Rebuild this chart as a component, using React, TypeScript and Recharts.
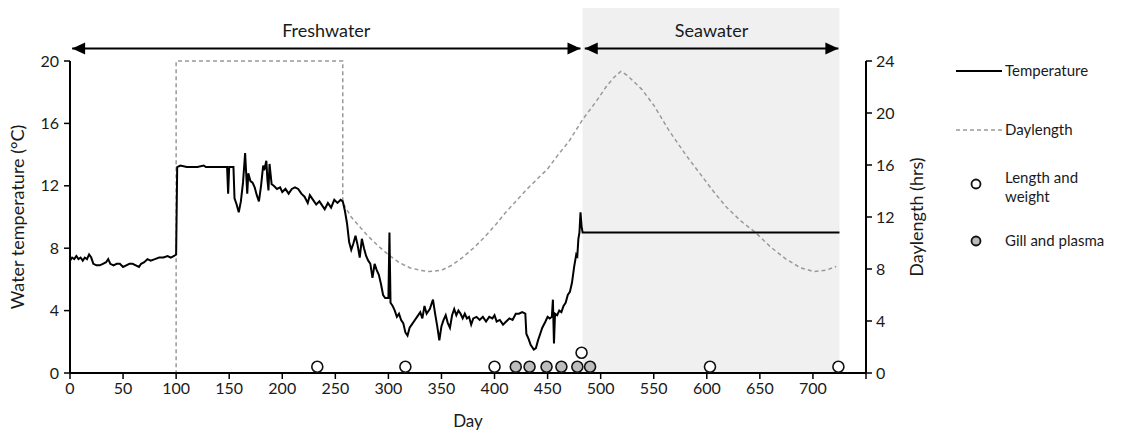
// Water temperature and daylength across the freshwater and seawater phases,
// with the sampling days marked along the bottom.
import {
  ComposedChart,
  Line,
  ReferenceArea,
  ReferenceLine,
  Scatter,
  XAxis,
  YAxis,
} from "recharts";

const FONT = "Lato, 'Open Sans', sans-serif";
const INK = "#1a1a1a";

const tempDays = [
  0, 2, 4, 6, 8, 10, 12, 14, 16, 18, 20, 22, 25, 28, 31, 34, 36, 38, 41, 44, 47, 50, 53, 56, 59, 62, 65, 67,
  70, 73, 76, 80, 84, 88, 92, 95, 98, 100, 101, 104, 110, 115, 120, 126, 128, 135, 145, 148, 149, 150, 154,
  155, 157, 159, 161, 163, 165, 167, 168, 170, 172, 174, 176, 178, 180, 182, 183, 185, 186, 187, 188, 190,
  192, 195, 198, 200, 203, 206, 209, 212, 215, 218, 221, 224, 226, 229, 232, 235, 238, 240, 243, 246, 249,
  252, 255, 257, 259, 261, 263, 265, 267, 269, 271, 273, 275, 277, 279, 281, 283, 285, 287, 289, 291, 293,
  295, 297, 300, 301, 302, 304, 306, 308, 310, 312, 314, 316, 318, 320, 322, 324, 327, 330, 332, 334, 336,
  339, 342, 344, 346, 348, 350, 352, 354, 356, 358, 360, 362, 364, 366, 368, 370, 372, 374, 376, 378, 380,
  383, 386, 389, 392, 395, 398, 400, 402, 405, 408, 411, 414, 417, 420, 423, 426, 429, 430, 432, 434, 437,
  439, 441, 443, 445, 448, 450, 452, 454, 455, 456, 457, 459, 461, 463, 465, 467, 469, 471, 473, 475, 477,
  478, 479, 480, 481, 482, 483, 725,
];
const tempValues = [
  7.2, 7.4, 7.3, 7.5, 7.3, 7.4, 7.2, 7.4, 7.3, 7.6, 7.4, 7.0, 6.9, 6.9, 7.0, 7.1, 7.3, 7.0, 6.9, 7.0, 7.0, 6.8,
  6.9, 7.0, 7.0, 6.9, 6.8, 7.0, 7.1, 7.3, 7.2, 7.3, 7.4, 7.4, 7.5, 7.4, 7.5, 7.6, 13.2, 13.3, 13.2, 13.2, 13.2,
  13.3, 13.2, 13.2, 13.2, 13.2, 11.5, 13.2, 13.2, 11.2, 10.8, 10.3, 11.0, 12.2, 14.1, 11.5, 12.8, 12.3, 12.2,
  11.9, 11.4, 11.0, 12.0, 13.3, 13.0, 13.6, 12.4, 11.7, 13.4, 12.1, 12.0, 11.8, 11.9, 11.6, 11.8, 11.5, 11.8,
  11.9, 11.8, 11.5, 11.3, 10.9, 11.4, 11.1, 10.8, 11.0, 10.7, 10.5, 10.9, 10.6, 11.1, 10.9, 11.1, 11.0, 10.4,
  9.6, 8.4, 7.9, 8.3, 8.8, 8.2, 7.4, 8.6, 8.0, 7.5, 7.2, 7.0, 6.1, 7.0, 6.6, 6.3, 5.7, 5.0, 4.8, 4.8, 9.0,
  4.5, 4.3, 4.0, 3.6, 3.8, 3.4, 3.2, 2.6, 2.4, 2.9, 3.1, 3.3, 3.6, 3.9, 3.5, 4.3, 3.8, 4.1, 4.7, 3.8, 3.0,
  2.1, 3.0, 3.4, 3.7, 3.2, 2.9, 3.7, 4.1, 3.7, 4.0, 3.8, 3.5, 3.8, 3.5, 3.6, 3.1, 3.5, 3.6, 3.4, 3.6, 3.3,
  3.6, 3.5, 3.7, 3.3, 3.4, 3.1, 3.3, 3.5, 3.4, 3.8, 3.8, 3.9, 3.8, 2.5, 2.2, 1.8, 1.5, 1.6, 2.1, 2.5, 2.9,
  3.3, 3.6, 3.5, 3.6, 4.7, 1.9, 3.8, 3.7, 4.0, 3.9, 4.3, 4.5, 5.0, 5.2, 5.8, 6.8, 7.6, 7.5, 8.6, 9.0, 10.3,
  9.4, 9.0, 9.0,
];

const lightDays = [
  0, 100, 100, 257, 257, 265, 280, 290, 300, 310, 320, 330, 338, 350, 360, 370, 380, 390, 400, 410, 420, 430,
  440, 450, 460, 470, 483, 495, 505, 512, 519, 525, 539, 550, 564, 580, 593, 605, 618, 632, 646, 660, 674,
  688, 701, 712, 722,
];
const lightHours = [
  0, 0, 24, 24, 13.1, 12.0, 10.6, 9.8, 9.1, 8.5, 8.1, 7.9, 7.8, 7.9, 8.3, 8.9, 9.6, 10.4, 11.3, 12.3, 13.2,
  14.1, 14.9, 15.7, 16.8, 17.8, 19.5, 20.8, 22.0, 22.7, 23.2, 22.9, 21.8, 20.6, 18.7, 16.8, 15.4, 14.1, 12.8,
  11.7, 10.8, 9.7, 8.8, 8.1, 7.8, 7.9, 8.2,
];

const lengthWeightDays = [233, 316, 400, 482, 603, 724];
const lengthWeightLevel = [0.4, 0.4, 0.4, 1.3, 0.4, 0.4];
const gillPlasmaDays = [420, 433, 449, 463, 478, 490];
const gillPlasmaLevel = [0.4, 0.4, 0.4, 0.4, 0.4, 0.4];

const dayTicks = [0, 50, 100, 150, 200, 250, 300, 350, 400, 450, 500, 550, 600, 650, 700, 750];
const tempTicks = [0, 4, 8, 12, 16, 20];
const hourTicks = [0, 4, 8, 12, 16, 20, 24];

const seawaterFrom = 483;
const seawaterTo = 725;
const phaseNames = ["Freshwater", "Seawater"];
const phaseFrom = [2, 485];
const phaseTo = [481, 724];
const phaseLevel = 20.8;
const shadeTop = 23.4;

const pairs = (xs: number[], ys: number[]) => xs.map((x, i) => ({ x, y: ys[i] }));

const temperature = pairs(tempDays, tempValues);
const daylength = pairs(lightDays, lightHours);
const lengthWeight = pairs(lengthWeightDays, lengthWeightLevel);
const gillPlasma = pairs(gillPlasmaDays, gillPlasmaLevel);

const tick = { fill: INK, fontSize: 16, fontFamily: FONT };
const axisLine = { stroke: "#000", strokeWidth: 2 };

function PhaseArrow(props: any, text: string) {
  const vb = props.viewBox ?? {};
  const x = vb.x ?? 0;
  const y = vb.y ?? 0;
  const w = vb.width ?? 0;
  return (
    <g>
      <polygon points={`${x},${y} ${x + 13},${y - 6} ${x + 13},${y + 6}`} fill="#000" />
      <polygon points={`${x + w},${y} ${x + w - 13},${y - 6} ${x + w - 13},${y + 6}`} fill="#000" />
      <text x={x + w / 2} y={y - 12} textAnchor="middle" fontSize={18} fontFamily={FONT} fill={INK}>
        {text}
      </text>
    </g>
  );
}

function Ring({ cx, cy, fill }: { cx?: number; cy?: number; fill: string }) {
  if (cx == null || cy == null) return null;
  return <circle cx={cx} cy={cy} r={5.5} fill={fill} stroke="#111" strokeWidth={1.6} />;
}

function Key() {
  const text = { fontSize: 15, fontFamily: FONT, fill: INK };
  return (
    <svg width={200} height={260} style={{ position: "absolute", left: 948, top: 40 }}>
      <line x1={8} x2={54} y1={31} y2={31} stroke="#000" strokeWidth={2} />
      <text x={57} y={36} {...text}>Temperature</text>
      <line x1={8} x2={54} y1={90} y2={90} stroke="#999" strokeWidth={1.5} strokeDasharray="4 3" />
      <text x={57} y={95} {...text}>Daylength</text>
      <circle cx={28} cy={144} r={4.5} fill="#fff" stroke="#111" strokeWidth={1.8} />
      <text x={57} y={143} {...text}>Length and</text>
      <text x={57} y={162} {...text}>weight</text>
      <circle cx={28} cy={201} r={4.5} fill="#bbb" stroke="#111" strokeWidth={1.8} />
      <text x={57} y={206} {...text}>Gill and plasma</text>
    </svg>
  );
}

export default function App() {
  return (
    <div style={{ position: "absolute", left: 0, top: 0, width: 1148, height: 433, background: "#fff" }}>
      <ComposedChart
        width={1148}
        height={433}
        margin={{ top: 61, right: 222, bottom: 6, left: 15 }}
        style={{ fontFamily: FONT }}
      >
        <ReferenceArea
          x1={seawaterFrom}
          x2={seawaterTo}
          y1={0}
          y2={shadeTop}
          yAxisId="left"
          fill="#f0f0f0"
          fillOpacity={1}
          stroke="none"
          ifOverflow="visible"
        />
        <XAxis
          type="number"
          dataKey="x"
          domain={[0, 750]}
          ticks={dayTicks}
          tickFormatter={(v: number) => (v === 750 ? "" : String(v))}
          tick={tick}
          axisLine={axisLine}
          tickLine={{ stroke: "#000", strokeWidth: 1.5 }}
          tickSize={6}
          tickMargin={4}
          height={54}
          label={{ value: "Day", position: "insideBottom", offset: 0, fill: INK, fontSize: 17, fontFamily: FONT }}
        />
        <YAxis
          yAxisId="left"
          dataKey="y"
          domain={[0, 20]}
          ticks={tempTicks}
          tick={tick}
          axisLine={axisLine}
          tickLine={{ stroke: "#000", strokeWidth: 1.5 }}
          tickSize={6}
          tickMargin={5}
          width={55}
          label={{
            value: "Water temperature (°C)",
            angle: -90,
            position: "insideLeft",
            offset: 3,
            style: { textAnchor: "middle" },
            fill: INK,
            fontSize: 18,
            fontFamily: FONT,
          }}
        />
        <YAxis
          yAxisId="right"
          orientation="right"
          dataKey="y"
          domain={[0, 24]}
          ticks={hourTicks}
          tick={tick}
          axisLine={axisLine}
          tickLine={{ stroke: "#000", strokeWidth: 1.5 }}
          tickSize={6}
          tickMargin={4}
          width={60}
          label={{
            value: "Daylength (hrs)",
            angle: -90,
            position: "insideRight",
            offset: 9,
            style: { textAnchor: "middle" },
            fill: INK,
            fontSize: 18,
            fontFamily: FONT,
          }}
        />
        {phaseNames.map((name, i) => (
          <ReferenceLine
            key={name}
            yAxisId="left"
            segment={[
              { x: phaseFrom[i], y: phaseLevel },
              { x: phaseTo[i], y: phaseLevel },
            ]}
            stroke="#000"
            strokeWidth={2}
            ifOverflow="visible"
            label={(p: any) => PhaseArrow(p, name)}
          />
        ))}
        <Line
          yAxisId="right"
          data={daylength}
          dataKey="y"
          type="linear"
          stroke="#9a9a9a"
          strokeWidth={1.5}
          strokeDasharray="4 3"
          dot={false}
          activeDot={false}
          isAnimationActive={false}
        />
        <Line
          yAxisId="left"
          data={temperature}
          dataKey="y"
          type="linear"
          stroke="#000"
          strokeWidth={2}
          dot={false}
          activeDot={false}
          isAnimationActive={false}
        />
        <Scatter
          yAxisId="left"
          data={lengthWeight}
          dataKey="y"
          shape={(p: any) => <Ring cx={p.cx} cy={p.cy} fill="#fff" />}
          isAnimationActive={false}
        />
        <Scatter
          yAxisId="left"
          data={gillPlasma}
          dataKey="y"
          shape={(p: any) => <Ring cx={p.cx} cy={p.cy} fill="#bdbdbd" />}
          isAnimationActive={false}
        />
      </ComposedChart>
      <Key />
    </div>
  );
}
